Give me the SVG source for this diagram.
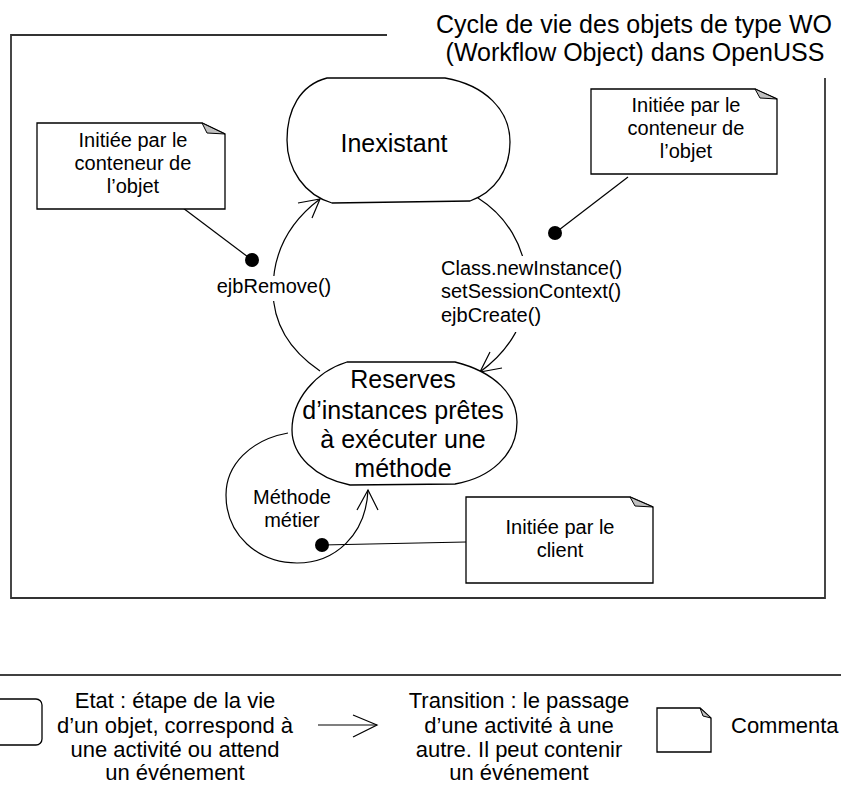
<svg xmlns="http://www.w3.org/2000/svg" width="841" height="785" viewBox="0 0 841 785">
<style>
text{font-family:"Liberation Sans",Arial,sans-serif;fill:#000}
.t25{font-size:25px;text-anchor:middle}
.t20{font-size:20px;text-anchor:middle}
.t20l{font-size:20px;text-anchor:start}
.t22{font-size:22px;text-anchor:middle}
.shape{fill:#fff;stroke:#000;stroke-width:1.3}
.note{fill:#fff;stroke:#000;stroke-width:1.3}
.fold{fill:#c0c0c0;stroke:#000;stroke-width:1}
.edge{fill:none;stroke:#000;stroke-width:1.2}
.frame{fill:none;stroke:#333;stroke-width:1.8}
.dot{fill:#000}
.mask{fill:#fff}
</style>
<rect width="841" height="785" fill="#fff"/>

<g id="frame">
<path class="frame" d="M 387,35 L 11,35 L 11,598 L 825,598 L 825,78"/>
<text class="t25" x="634" y="33">Cycle de vie des objets de type WO</text>
<text class="t25" x="635" y="61">(Workflow Object) dans OpenUSS</text>
</g>

<g id="connectors">
<path class="edge" d="M 320,371 C 292,352 273,325 273,290 C 273,250 292,220 320,199"/>
<path class="edge" d="M 298,203 L 320,199 L 312,218"/>
<path class="edge" d="M 478,198 C 505,215 526,245 527,285 C 528,320 510,350 480,372"/>
<path class="edge" d="M 490,352 L 480,372 L 502,368"/>
<path class="edge" d="M 288,433 C 250,440 226,465 226,495 C 226,535 258,563 297,563 C 335,563 366,535 368,490"/>
<path class="edge" d="M 357,510 L 368,490 L 378,510"/>
<path class="edge" d="M 183,208 L 252,260"/>
<circle class="dot" cx="252" cy="260" r="7"/>
<path class="edge" d="M 628,177 L 555,233"/>
<circle class="dot" cx="555" cy="233" r="7"/>
<path class="edge" d="M 466,542 L 322,545"/>
<circle class="dot" cx="322" cy="545" r="7"/>
</g>

<g id="label-ejbRemove">
<rect class="mask" x="214" y="276" width="120" height="25"/>
<text class="t20" x="274" y="293">ejbRemove()</text>
</g>
<g id="label-create">
<rect class="mask" x="439" y="256" width="168" height="76"/>
<text class="t20l" x="441" y="275">Class.newInstance()</text>
<text class="t20l" x="441" y="298">setSessionContext()</text>
<text class="t20l" x="441" y="322">ejbCreate()</text>
</g>
<g id="label-methode">
<text class="t20" x="292" y="504">Méthode</text>
<text class="t20" x="292" y="527">métier</text>
</g>

<g id="state-inexistant">
<path class="shape" d="M 327,78 L 445,78 C 485,85 510,110 510,142 C 510,170 495,192 470,201 L 332,203 C 305,195 287,170 287,140 C 287,110 300,85 327,78 Z"/>
<text class="t25" x="394" y="152">Inexistant</text>
</g>

<g id="state-reserves">
<path class="shape" d="M 347,362 L 455,362 C 495,372 517,395 517,422 C 517,455 490,478 455,484 L 350,485 C 315,478 292,455 292,430 C 292,400 315,372 347,362 Z"/>
<text class="t25" x="403" y="388">Reserves</text>
<text class="t25" x="403" y="419">d’instances prêtes</text>
<text class="t25" x="403" y="448">à exécuter une</text>
<text class="t25" x="403" y="477">méthode</text>
</g>

<g id="note-left">
<path class="note" d="M 37,123 L 202,123 L 225,134 L 225,209 L 37,209 Z"/>
<path class="fold" d="M 202,123 L 207,133 L 225,134 Z"/>
<text class="t20" x="133" y="147">Initiée par le</text>
<text class="t20" x="133" y="170">conteneur de</text>
<text class="t20" x="133" y="193">l’objet</text>
</g>

<g id="note-right">
<path class="note" d="M 591,89 L 755,89 L 777,99 L 777,174 L 591,174 Z"/>
<path class="fold" d="M 755,89 L 760,98 L 777,99 Z"/>
<text class="t20" x="686" y="112">Initiée par le</text>
<text class="t20" x="686" y="135">conteneur de</text>
<text class="t20" x="686" y="158">l’objet</text>
</g>

<g id="note-client">
<path class="note" d="M 466,497 L 630,497 L 653,507 L 653,583 L 466,583 Z"/>
<path class="fold" d="M 630,497 L 635,506 L 653,507 Z"/>
<text class="t20" x="560" y="534">Initiée par le</text>
<text class="t20" x="560" y="557">client</text>
</g>

<g id="legend">
<path d="M 0,675 L 841,675" stroke="#000" stroke-width="1.5" fill="none"/>
<g id="legend-state">
<rect class="shape" x="-20" y="699" width="62" height="46" rx="6"/>
<text class="t22" x="175" y="708">Etat : étape de la vie</text>
<text class="t22" x="175" y="733">d’un objet, correspond à</text>
<text class="t22" x="175" y="757">une activité ou attend</text>
<text class="t22" x="175" y="780">un événement</text>
</g>
<g id="legend-transition">
<path class="edge" d="M 318,725 L 377,725"/>
<path class="edge" d="M 353,715 L 377,725 L 353,737"/>
<text class="t22" x="519" y="708">Transition : le passage</text>
<text class="t22" x="519" y="733">d’une activité à une</text>
<text class="t22" x="519" y="757">autre. Il peut contenir</text>
<text class="t22" x="519" y="780">un événement</text>
</g>
<g id="legend-comment">
<path class="note" d="M 657,708 L 700,708 L 711,718 L 711,752 L 657,752 Z"/>
<path class="fold" d="M 700,708 L 703,716 L 711,718 Z"/>
<text style="font-size:22px" x="731" y="733">Commenta</text>
</g>
</g>
</svg>
